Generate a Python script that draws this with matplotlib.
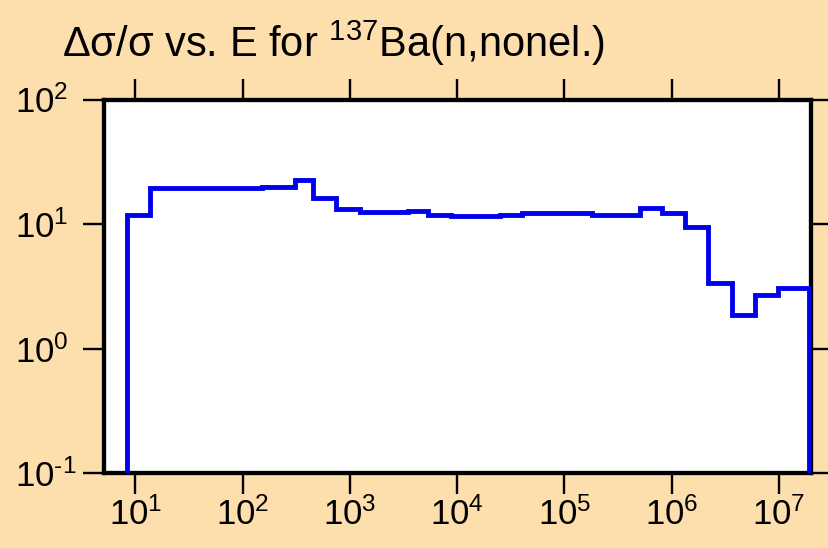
import matplotlib
matplotlib.use("Agg")
import matplotlib.pyplot as plt
import matplotlib.ticker as mticker
import numpy as np

plt.rcParams['font.family'] = ['Liberation Sans', 'DejaVu Sans']
plt.rcParams['mathtext.default'] = 'regular'

# group boundaries (eV) and relative uncertainty (%)
edges = [8.3, 13.6, 150, 306, 453, 748, 1234, 2036, 3459, 5321, 8851,
         24950, 40600, 1.79e5, 5.05e5, 8.05e5, 1.33e6, 2.19e6, 3.62e6,
         5.98e6, 9.86e6, 1.92e7]
rel_unc = [11.9, 19.5, 19.7, 22.7, 16.1, 13.2, 12.6, 12.6, 12.7, 11.9,
           11.7, 11.8, 12.2, 11.9, 13.5, 12.2, 9.4, 3.39, 1.85, 2.70, 3.09]
x_ticks = [1e1, 1e2, 1e3, 1e4, 1e5, 1e6, 1e7]
y_ticks = [1e-1, 1e0, 1e1, 1e2]


def pow10(v, pos):
    e = int(round(np.log10(v)))
    s = str(e).replace('-', '\u2010')
    return '$10^{%s}$' % s


bg = '#FDDEAD'
fig = plt.figure(figsize=(8.29, 5.48), dpi=100, facecolor=bg)
ax = fig.add_axes([0.1252, 0.1363, 0.8525, 0.6821])
ax.set_facecolor('white')

ax.stairs(rel_unc, edges, baseline=1e-3, color='#0000EE', linewidth=3.5,
          zorder=3)

ax.set_xscale('log')
ax.set_yscale('log')
ax.set_xlim(5.07, 1.97e7)
ax.set_ylim(0.1, 100)

ax.xaxis.set_major_locator(mticker.FixedLocator(x_ticks))
ax.yaxis.set_major_locator(mticker.FixedLocator(y_ticks))
ax.xaxis.set_minor_locator(mticker.NullLocator())
ax.yaxis.set_minor_locator(mticker.NullLocator())
ax.xaxis.set_major_formatter(mticker.FuncFormatter(pow10))
ax.yaxis.set_major_formatter(mticker.FuncFormatter(pow10))

for s in ax.spines.values():
    s.set_linewidth(3.1)
    s.set_color('black')

ax.tick_params(axis='both', which='major', direction='out', length=15,
               width=1.7, labelsize=25, top=True, right=True,
               labeltop=False, labelright=False)
ax.tick_params(axis='x', pad=2.5)
ax.tick_params(axis='y', pad=49)
plt.setp(ax.get_yticklabels(), ha='left')

fig.text(62 / 829, 1 - 57 / 548, r'$\Delta\sigma/\sigma$ vs. E for $^{137}$Ba(n,nonel.)',
         fontsize=30, ha='left', va='baseline')

fig.savefig('out.png', dpi=100, facecolor=bg)
